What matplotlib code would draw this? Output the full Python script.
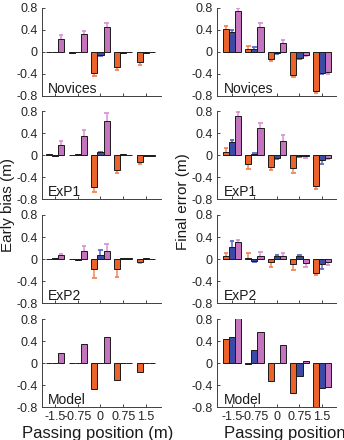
import numpy as np
from matplotlib import pyplot as plt

plt.rcParams['font.family'] = ['Liberation Sans', 'DejaVu Sans']

# passing positions (m)
positions = [1, 2, 3, 4, 5]
tick_labels = ['-1.5', '-0.75', '0', '0.75', '1.5']
panel_names = ['Novices', 'ExP1', 'ExP2', 'Model']

# early bias (m): rows = orange, blue, purple series
bias_novices = [[0.0, -0.01, -0.38, -0.27, -0.18],
                [0.0, 0.0, -0.06, -0.01, -0.01],
                [0.24, 0.33, 0.45, 0.0, 0.0]]
bias_novices_err = [[0, 0, 0.06, 0.06, 0.05],
                    [0, 0, 0.02, 0, 0],
                    [0.06, 0.06, 0.07, 0, 0]]
bias_exp1 = [[0.01, 0.0, -0.58, -0.27, -0.13],
             [-0.02, 0.01, 0.05, 0.01, -0.02],
             [0.18, 0.35, 0.62, 0.0, -0.01]]
bias_exp1_err = [[0, 0, 0.09, 0.06, 0.04],
                 [0, 0, 0.01, 0, 0],
                 [0.08, 0.10, 0.15, 0, 0]]
bias_exp2 = [[0.0, 0.0, -0.19, -0.19, -0.06],
             [0.01, -0.01, 0.08, 0.01, 0.02],
             [0.07, 0.15, 0.15, 0.01, 0.0]]
bias_exp2_err = [[0, 0, 0.16, 0.13, 0.01],
                 [0, 0, 0.09, 0, 0],
                 [0.02, 0.09, 0.12, 0, 0]]
bias_model = [[0.0, 0.0, -0.47, -0.31, -0.16],
              [0.0, 0.0, 0.0, 0.0, 0.0],
              [0.19, 0.35, 0.47, 0.0, 0.0]]

# final error (m)
final_novices = [[0.41, 0.06, -0.13, -0.41, -0.71],
                 [0.36, 0.06, -0.02, -0.11, -0.38],
                 [0.74, 0.46, 0.17, -0.05, -0.37]]
final_novices_err = [[0.07, 0.04, 0.04, 0.04, 0.04],
                     [0.04, 0.03, 0.01, 0.02, 0.02],
                     [0.06, 0.06, 0.05, 0.02, 0.03]]
final_exp1 = [[0.06, -0.16, -0.22, -0.24, -0.56],
              [0.24, 0.02, -0.05, -0.01, -0.09],
              [0.71, 0.49, 0.25, -0.02, -0.05]]
final_exp1_err = [[0.06, 0.09, 0.06, 0.09, 0.05],
                  [0.04, 0.02, 0.02, 0.03, 0.07],
                  [0.08, 0.10, 0.11, 0.03, 0.03]]
final_exp2 = [[0.05, 0.01, -0.05, -0.10, -0.26],
              [0.21, -0.03, 0.05, 0.05, -0.10],
              [0.30, 0.06, 0.06, -0.08, -0.06]]
final_exp2_err = [[0.06, 0.10, 0.09, 0.10, 0.04],
                  [0.11, 0.02, 0.02, 0.03, 0.08],
                  [0.05, 0.06, 0.05, 0.06, 0.05]]
final_model = [[0.44, -0.02, -0.32, -0.55, -0.80],
               [0.48, 0.23, 0.0, -0.23, -0.46],
               [0.82, 0.57, 0.32, 0.03, -0.43]]

bar_colors = ['#E9632B', '#3B4BA5', '#C474BE']
err_colors = ['#F2875A', '#5A6BC8', '#D995D3']

columns = [
    [(bias_novices, bias_novices_err), (bias_exp1, bias_exp1_err),
     (bias_exp2, bias_exp2_err), (bias_model, None)],
    [(final_novices, final_novices_err), (final_exp1, final_exp1_err),
     (final_exp2, final_exp2_err), (final_model, None)],
]

W, H = 344, 440
fig = plt.figure(figsize=(W / 100, H / 100), dpi=100)

col_left = [42, 217]
col_xlim = [(0.43, 5.66), (0.34, 5.62)]
row_bottom = [96, 199, 303, 407]
ax_w, ax_h = 119, 88
bw = 0.27

for c in range(2):
    for r in range(4):
        vals, errs = columns[c][r]
        ax = fig.add_axes([col_left[c] / W, 1 - row_bottom[r] / H, ax_w / W, ax_h / H])
        for s in range(3):
            x = np.array(positions) + (s - 1) * bw
            v = np.array(vals[s])
            ax.bar(x, v, width=bw, color=bar_colors[s], edgecolor='#1a1a1a',
                   linewidth=0.7, zorder=3)
            if errs is not None:
                e = np.array(errs[s])
                m = e > 0
                ends = v + np.sign(v) * e
                ax.vlines(x[m], v[m], ends[m], color=err_colors[s], lw=1.1, zorder=2)
                ax.hlines(ends[m], x[m] - 0.1, x[m] + 0.1, color=err_colors[s],
                          lw=1.3, zorder=2)
        ax.set_xlim(*col_xlim[c])
        ax.set_ylim(-0.8, 0.8)
        ax.set_yticks([-0.8, -0.4, 0, 0.4, 0.8])
        ax.set_yticklabels(['-0.8', '-0.4', '0', '0.4', '0.8'])
        ax.set_xticks(positions)
        if r == 3:
            ax.set_xticklabels(tick_labels)
        else:
            ax.set_xticklabels([])
        ax.tick_params(direction='in', length=2.5, width=0.6, labelsize=9,
                       pad=3, colors='#262626')
        for side in ['top', 'right']:
            ax.spines[side].set_visible(False)
        for side in ['left', 'bottom']:
            ax.spines[side].set_linewidth(0.7)
            ax.spines[side].set_color('#404040')
        ax.text(0.05 if c == 0 else 0.06, 0.035, panel_names[r], transform=ax.transAxes,
                fontsize=10, color='#1a1a1a', ha='left', va='baseline', zorder=5)

fig.text(8 / W, 1 - 205 / H, 'Early bias (m)', rotation=90, fontsize=11,
         ha='center', va='center', color='#1a1a1a')
fig.text(183 / W, 1 - 202 / H, 'Final error (m)', rotation=90, fontsize=11,
         ha='center', va='center', color='#1a1a1a')
fig.text(98 / W, 1 - 426 / H, 'Passing position (m)', fontsize=12,
         ha='center', va='top', color='#1a1a1a')
fig.text(224 / W, 1 - 426 / H, 'Passing position (m)', fontsize=12,
         ha='left', va='top', color='#1a1a1a')

fig.savefig('out.png', dpi=100)
